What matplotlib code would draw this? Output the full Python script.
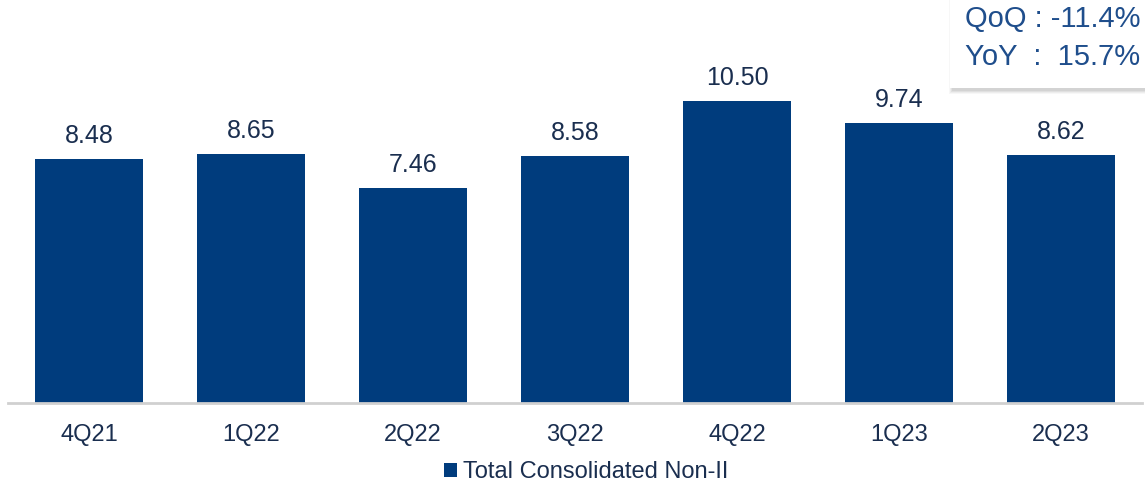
import numpy as np
import matplotlib.pyplot as plt
from matplotlib.patches import Rectangle

plt.rcParams['font.family'] = ['Liberation Sans', 'DejaVu Sans']

# data
quarters = ['4Q21', '1Q22', '2Q22', '3Q22', '4Q22', '1Q23', '2Q23']
values = [8.48, 8.65, 7.46, 8.58, 10.50, 9.74, 8.62]
series_name = 'Total Consolidated Non-II'
box_lines = ['QoQ : -11.4%', 'YoY  :  15.7%']

bar_col = '#003C7D'
txt_col = '#1A2E4F'
box_col = '#1F4E8C'

fig = plt.figure(figsize=(11.45, 4.86), dpi=100)
ax = fig.add_axes([8 / 1145, 83 / 486, 1134 / 1145, 403 / 486])

x = np.arange(len(quarters))
bars = ax.bar(x, values, width=0.665, color=bar_col, label=series_name)

for xi, v in zip(x, values):
    ax.annotate('%.2f' % v, (xi, v), xytext=(0, 8), textcoords='offset points',
                ha='center', va='bottom', fontsize=18, color=txt_col)

ax.set_xlim(-0.5, 6.5)
ax.set_ylim(0, 14.0)
ax.set_xticks(x)
ax.set_xticklabels(quarters, fontsize=17, color=txt_col)
ax.tick_params(axis='x', length=0, pad=15)
ax.set_yticks([])
for s in ['top', 'right', 'left']:
    ax.spines[s].set_visible(False)
ax.spines['bottom'].set_color('#D0D0D0')
ax.spines['bottom'].set_linewidth(2)

leg = fig.legend(loc='center', bbox_to_anchor=(586 / 1145, 1 - 472 / 486), frameon=False,
                 fontsize=17, handlelength=0.55, handleheight=0.55, handletextpad=0.25)
for t in leg.get_texts():
    t.set_color(txt_col)

# QoQ / YoY box with a soft shadow
for i, a in enumerate([0.06, 0.05, 0.04, 0.03]):
    sh = Rectangle(((952 - i) / 1145, 1 - (91 + i) / 486), 200 / 1145, 95 / 486,
                   transform=fig.transFigure, facecolor='black', alpha=a, edgecolor='none')
    fig.add_artist(sh)
box = Rectangle((950 / 1145, 1 - 88 / 486), 200 / 1145, 95 / 486,
                transform=fig.transFigure, facecolor='white', edgecolor='none')
fig.add_artist(box)
fig.text(965 / 1145, 1 - 19 / 486, box_lines[0], fontsize=21, color=box_col, va='center', ha='left')
fig.text(965 / 1145, 1 - 57 / 486, box_lines[1], fontsize=21, color=box_col, va='center', ha='left')

fig.savefig('out.png', dpi=100)
